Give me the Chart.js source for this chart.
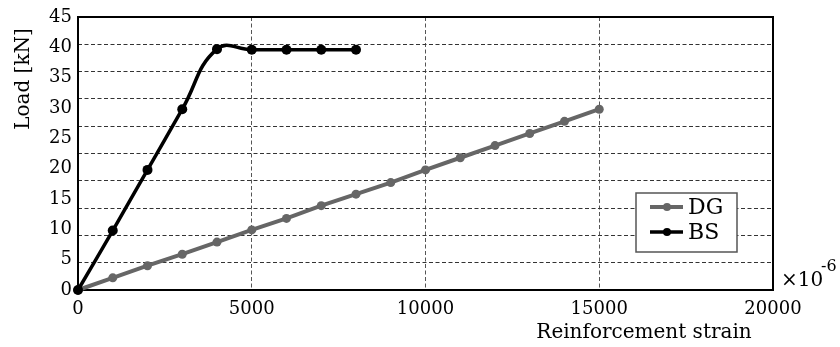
<!DOCTYPE html>
<html>
<head>
<meta charset="utf-8">
<script src="https://cdn.jsdelivr.net/npm/chart.js@4/dist/chart.umd.min.js"></script>
<style>
  html, body { margin: 0; padding: 0; background: #fff; }
  #wrap { width: 840px; height: 347px; }
</style>
</head>
<body>
<div id="wrap"><canvas id="loadChart"></canvas></div>
<script>
// values (strain in 1e-6, load in kN)
const dgStrain = [0, 1000, 2000, 3000, 4000, 5000, 6000, 7000, 8000, 9000, 10000, 11000, 12000, 13000, 14000, 15000];
const dgLoad = [0, 2.0, 4.0, 5.9, 7.9, 9.9, 11.8, 13.9, 15.8, 17.7, 19.8, 21.8, 23.8, 25.8, 27.8, 29.8];
const bsStrain = [0, 1000, 2000, 3000, 4000, 5000, 6000, 7000, 8000];
const bsLoad = [0, 9.8, 19.8, 29.8, 39.7, 39.6, 39.6, 39.6, 39.6];
const xTicks = [0, 5000, 10000, 15000, 20000];
const yTicks = [0, 5, 10, 15, 20, 25, 30, 35, 40, 45];
const seriesNames = ['DG', 'BS'];
const seriesColors = ['#666666', '#000000'];

const serif = 'DejaVu Serif';

function toPoints(xs, ys) {
    return xs.map((x, i) => ({ x: x, y: ys[i] }));
}

// box round the plot, drawn before the lines so the dots sit on top
const framePlugin = {
    id: 'frame',
    beforeDatasetsDraw(chart) {
        const { ctx, chartArea: a } = chart;
        ctx.save();
        ctx.strokeStyle = '#000';
        ctx.lineWidth = 2;
        ctx.strokeRect(a.left, a.top, a.right - a.left, a.bottom - a.top);
        ctx.restore();
    }
};

// axis titles, the x10^-6 multiplier and the boxed legend
const textPlugin = {
    id: 'texts',
    afterDraw(chart) {
        const ctx = chart.ctx;
        ctx.save();
        ctx.fillStyle = '#000';
        ctx.font = '20px "' + serif + '"';
        ctx.textAlign = 'center';
        ctx.textBaseline = 'middle';
        ctx.fillText('Reinforcement strain', 644, 333);

        ctx.save();
        ctx.translate(24, 79);
        ctx.rotate(-Math.PI / 2);
        ctx.fillText('Load [kN]', 0, 0);
        ctx.restore();

        ctx.textAlign = 'left';
        ctx.font = '20px "' + serif + '"';
        ctx.fillText('\u00d710', 781, 281);
        ctx.font = '16px "' + serif + '"';
        ctx.fillText('-6', 821, 267);

        // legend
        ctx.fillStyle = '#fff';
        ctx.fillRect(636, 193, 101, 59);
        ctx.strokeStyle = '#555';
        ctx.lineWidth = 1.5;
        ctx.strokeRect(636, 193, 101, 59);
        const rows = [207, 232];
        seriesNames.forEach((name, i) => {
            const y = rows[i];
            ctx.strokeStyle = seriesColors[i];
            ctx.lineWidth = i === 0 ? 4 : 3.5;
            ctx.beginPath();
            ctx.moveTo(650, y);
            ctx.lineTo(683, y);
            ctx.stroke();
            ctx.fillStyle = seriesColors[i];
            ctx.beginPath();
            ctx.arc(667, y, 4, 0, Math.PI * 2);
            ctx.fill();
            ctx.fillStyle = '#000';
            ctx.font = '22px "' + serif + '"';
            ctx.textBaseline = 'middle';
            ctx.fillText(name, 688, y + 1);
        });
        ctx.restore();
    }
};

const ctx = document.getElementById('loadChart').getContext('2d');

const loadChart = new Chart(ctx, {
    type: 'line',
    data: {
        datasets: [
            {
                label: seriesNames[0],
                data: toPoints(dgStrain, dgLoad),
                borderColor: seriesColors[0],
                backgroundColor: seriesColors[0],
                borderWidth: 4,
                pointRadius: 4.5,
                pointBorderWidth: 0,
                tension: 0,
                order: 1,
                clip: false
            },
            {
                label: seriesNames[1],
                data: toPoints(bsStrain, bsLoad),
                borderColor: seriesColors[1],
                backgroundColor: seriesColors[1],
                borderWidth: 3.5,
                pointRadius: 5,
                pointBorderWidth: 0,
                tension: 0.45,
                order: 0,
                clip: false
            }
        ]
    },
    options: {
        responsive: true,
        maintainAspectRatio: false,
        animation: false,
        layout: { padding: { top: 17, right: 67, left: 0, bottom: 0 } },
        plugins: {
            legend: { display: false },
            tooltip: { enabled: false }
        },
        scales: {
            x: {
                type: 'linear',
                min: xTicks[0],
                max: xTicks[xTicks.length - 1],
                afterBuildTicks: s => { s.ticks = xTicks.map(v => ({ value: v })); },
                afterFit: s => { s.height = 57; },
                border: { display: false, dash: [4, 2.5] },
                grid: {
                    drawTicks: false,
                    color: c => (c.tick && (c.tick.value === 0 || c.tick.value === 20000)) ? 'rgba(0,0,0,0)' : '#555',
                    lineWidth: 1
                },
                ticks: {
                    color: '#000',
                    padding: 9,
                    maxRotation: 0,
                    font: { family: serif, size: 18 },
                    callback: v => String(v)
                }
            },
            y: {
                type: 'linear',
                position: 'left',
                min: yTicks[0],
                max: yTicks[yTicks.length - 1],
                afterBuildTicks: s => { s.ticks = yTicks.map(v => ({ value: v })); },
                afterFit: s => { s.width = 78; },
                border: { display: false },
                grid: { display: false, drawTicks: false },
                ticks: {
                    color: '#000',
                    padding: 6,
                    font: { family: serif, size: 18 },
                    callback: v => String(v)
                }
            },
            // the dashed horizontal rules sit at ten equal steps, apart from the tick labels
            yg: {
                type: 'linear',
                position: 'left',
                min: 0,
                max: 10,
                ticks: { display: false, stepSize: 1 },
                afterFit: s => { s.width = 0; },
                border: { display: false, dash: [4, 2.5] },
                grid: {
                    drawTicks: false,
                    color: c => (c.tick && (c.tick.value === 0 || c.tick.value === 10)) ? 'rgba(0,0,0,0)' : '#333',
                    lineWidth: 1
                }
            }
        }
    },
    plugins: [framePlugin, textPlugin]
});
</script>
</body>
</html>
